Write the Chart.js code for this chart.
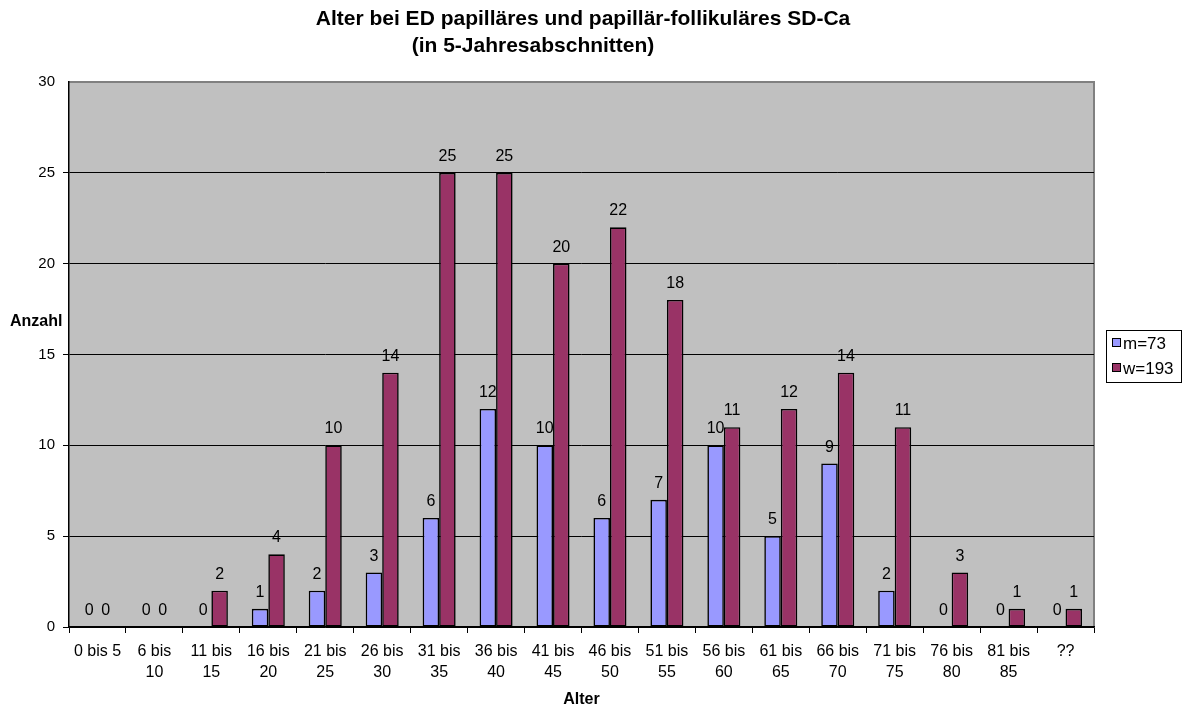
<!DOCTYPE html>
<html>
<head>
<meta charset="utf-8">
<script src="https://cdn.jsdelivr.net/npm/chart.js@4.4.1/dist/chart.umd.min.js"></script>
<style>
  html, body { margin: 0; padding: 0; background: #ffffff; }
  #wrap { width: 1186px; height: 709px; }
</style>
</head>
<body>
<div id="wrap"><canvas id="c" width="1186" height="709"></canvas></div>
<script>
// Age groups (5-year bands) and patient counts per sex
const categories = [
  '0 bis 5', ['6 bis', '10'], ['11 bis', '15'], ['16 bis', '20'], ['21 bis', '25'],
  ['26 bis', '30'], ['31 bis', '35'], ['36 bis', '40'], ['41 bis', '45'], ['46 bis', '50'],
  ['51 bis', '55'], ['56 bis', '60'], ['61 bis', '65'], ['66 bis', '70'], ['71 bis', '75'],
  ['76 bis', '80'], ['81 bis', '85'], '??'
];
const maleCounts   = [0, 0, 0, 1, 2, 3, 6, 12, 10, 6, 7, 10, 5, 9, 2, 0, 0, 0];
const femaleCounts = [0, 0, 2, 4, 10, 14, 25, 25, 20, 22, 18, 11, 12, 14, 11, 3, 1, 1];
const seriesNames  = ['m=73', 'w=193'];
const yTicks = { min: 0, max: 30, step: 5 };

const FONT = "'Liberation Sans', Arial, Helvetica, sans-serif";
const COLORS = ['#9999FF', '#993366'];

// Gray plot background with a gray frame on top and right
const plotBackground = {
  id: 'plotBackground',
  beforeDraw(chart) {
    const { ctx, chartArea: a } = chart;
    ctx.save();
    ctx.fillStyle = '#C0C0C0';
    ctx.fillRect(a.left, a.top, a.right - a.left, a.bottom - a.top);
    ctx.strokeStyle = '#808080';
    ctx.lineWidth = 2;
    ctx.beginPath();
    ctx.moveTo(a.left, a.top);
    ctx.lineTo(a.right, a.top);
    ctx.lineTo(a.right, a.bottom);
    ctx.stroke();
    ctx.restore();
  }
};

// Value labels above every bar
const valueLabels = {
  id: 'valueLabels',
  afterDatasetsDraw(chart) {
    const { ctx } = chart;
    ctx.save();
    ctx.font = '16px ' + FONT;
    ctx.fillStyle = '#000';
    ctx.textAlign = 'center';
    ctx.textBaseline = 'alphabetic';
    chart.data.datasets.forEach((ds, di) => {
      const meta = chart.getDatasetMeta(di);
      meta.data.forEach((bar, i) => {
        ctx.fillText(String(ds.data[i]), bar.x, bar.y - 12);
      });
    });
    ctx.restore();
  }
};

// Title, axis titles and boxed legend
const decorations = {
  id: 'decorations',
  afterDraw(chart) {
    const { ctx, chartArea: a } = chart;
    ctx.save();
    ctx.fillStyle = '#000';
    ctx.textBaseline = 'middle';
    ctx.textAlign = 'center';
    ctx.font = 'bold 21px ' + FONT;
    ctx.fillText('Alter bei ED papilläres und papillär-follikuläres SD-Ca', 583, 19);
    ctx.fillText('(in 5-Jahresabschnitten)', 533, 46);

    ctx.font = 'bold 16px ' + FONT;
    ctx.fillText('Alter', (a.left + a.right) / 2, 700);
    ctx.textAlign = 'left';
    ctx.fillText('Anzahl', 10, 322);

    // legend
    const lx = 1106.5, ly = 330.5, lw = 75, lh = 52;
    ctx.fillStyle = '#fff';
    ctx.fillRect(lx, ly, lw, lh);
    ctx.strokeStyle = '#000';
    ctx.lineWidth = 1;
    ctx.strokeRect(lx, ly, lw, lh);
    ctx.font = '17px ' + FONT;
    seriesNames.forEach((name, i) => {
      const cy = 343 + i * 25;
      ctx.fillStyle = COLORS[i];
      ctx.fillRect(1112.5, cy - 4.5, 8, 8);
      ctx.strokeRect(1112.5, cy - 4.5, 8, 8);
      ctx.fillStyle = '#000';
      ctx.fillText(name, 1123, cy + 1);
    });
    ctx.restore();
  }
};

const zeroAware = (ctx) => (ctx.raw === 0 ? 0 : 1.6);

new Chart(document.getElementById('c'), {
  type: 'bar',
  data: {
    labels: categories,
    datasets: [
      { label: seriesNames[0], data: maleCounts, backgroundColor: COLORS[0] },
      { label: seriesNames[1], data: femaleCounts, backgroundColor: COLORS[1] }
    ].map(d => Object.assign(d, {
      borderColor: '#000',
      borderWidth: zeroAware,
      borderSkipped: false,
      barPercentage: 1,
      categoryPercentage: 0.58
    }))
  },
  options: {
    responsive: false,
    animation: false,
    devicePixelRatio: 1,
    layout: { padding: { top: 82, right: 92, left: 0, bottom: 0 } },
    plugins: {
      legend: { display: false },
      title: { display: false },
      tooltip: { enabled: false }
    },
    scales: {
      x: {
        afterFit(scale) { scale.height = 82; },
        grid: { offset: true, drawOnChartArea: false, drawTicks: true, tickLength: 6, color: '#000', lineWidth: 1 },
        border: { display: true, color: '#000', width: 1.5 },
        ticks: {
          color: '#000',
          font: { family: FONT, size: 16, lineHeight: 21 / 16 },
          padding: 8,
          maxRotation: 0,
          minRotation: 0,
          autoSkip: false
        }
      },
      y: {
        min: yTicks.min,
        max: yTicks.max,
        afterFit(scale) { scale.width = 69; },
        grid: {
          color: (c) => (c.tick && c.tick.value === yTicks.max ? 'rgba(0,0,0,0)' : '#000'),
          lineWidth: 1,
          drawTicks: true,
          tickLength: 6
        },
        border: { display: true, color: '#000', width: 1.5 },
        ticks: {
          stepSize: yTicks.step,
          color: '#000',
          font: { family: FONT, size: 15 },
          padding: 8
        }
      }
    }
  },
  plugins: [plotBackground, valueLabels, decorations]
});
</script>
</body>
</html>
